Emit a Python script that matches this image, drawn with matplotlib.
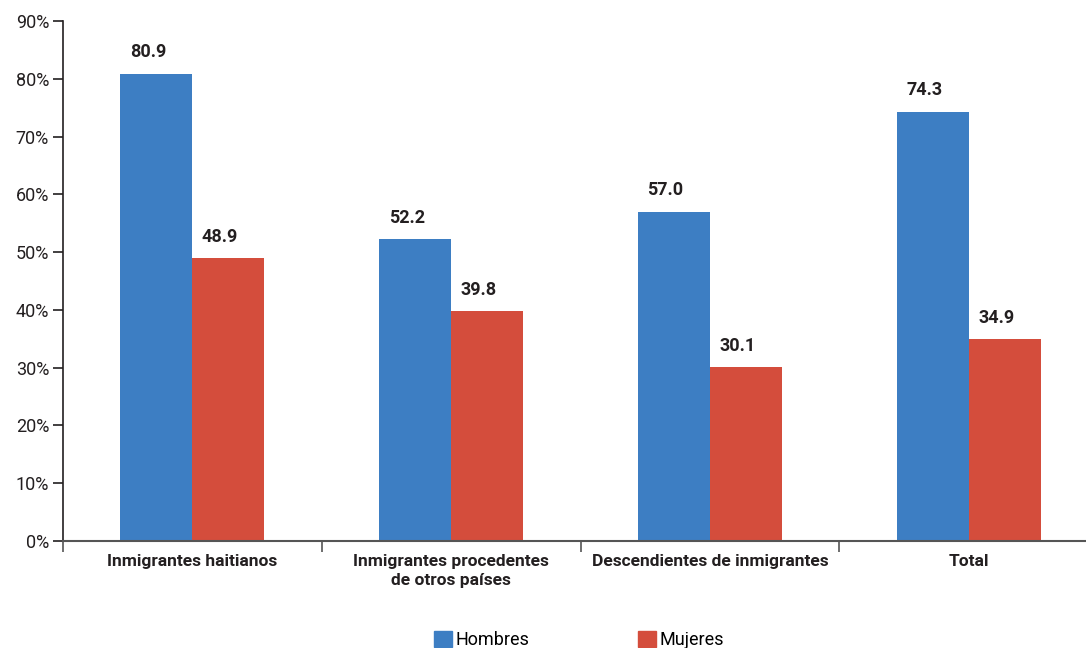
import matplotlib.pyplot as plt
import numpy as np
from matplotlib.patches import Patch

categories = ["Inmigrantes haitianos", "Inmigrantes procedentes\nde otros países",
              "Descendientes de inmigrantes", "Total"]
hombres = [80.9, 52.2, 57.0, 74.3]
mujeres = [48.9, 39.8, 30.1, 34.9]
series_names = ["Hombres", "Mujeres"]
yticks = [0, 10, 20, 30, 40, 50, 60, 70, 80, 90]

blue = "#3D7EC3"
red = "#D44D3C"
txt = "#231F20"

plt.rcParams['font.family'] = ['Roboto', 'DejaVu Sans']

fig = plt.figure(figsize=(10.86, 6.48), dpi=100)
W, H = 1086, 648
x0, x1 = 63, 1098
y0, y1 = 541, 21
ax = fig.add_axes([x0 / W, 1 - y0 / H, (x1 - x0) / W, (y0 - y1) / H])

x = np.arange(len(categories))
bw = 0.278
ax.bar(x - bw / 2, hombres, bw, color=blue)
ax.bar(x + bw / 2, mujeres, bw, color=red)

# value labels sit a little left of the bar centre, as in the original
for i in range(len(categories)):
    ax.annotate(f"{hombres[i]:.1f}", (x[i] - bw / 2, hombres[i]), xytext=(-6, 9),
                textcoords="offset points", ha="center", va="bottom",
                fontsize=13, fontweight="bold", color=txt)
    ax.annotate(f"{mujeres[i]:.1f}", (x[i] + bw / 2, mujeres[i]), xytext=(-6, 9),
                textcoords="offset points", ha="center", va="bottom",
                fontsize=13, fontweight="bold", color=txt)

ax.set_xlim(-0.5, len(categories) - 0.5)
ax.set_ylim(0, 90)
ax.set_yticks(yticks)
ax.set_yticklabels([f"{t}%" for t in yticks], fontsize=13, color=txt)
ax.tick_params(axis="y", length=7, width=1.2, color=txt, pad=3)

# category boundaries as ticks, labels at the centres
ax.set_xticks(np.arange(-0.5, len(categories), 1.0))
ax.set_xticklabels([])
ax.tick_params(axis="x", length=8, width=1.2, color="#555555")
for i, c in enumerate(categories):
    ax.text(x[i], -2.2, c, ha="center", va="top", fontsize=12.5, fontweight="bold",
            color=txt, linespacing=1.35)

for s in ["top", "right"]:
    ax.spines[s].set_visible(False)
ax.spines["left"].set_color(txt)
ax.spines["left"].set_linewidth(1.2)
ax.spines["bottom"].set_color("#555555")
ax.spines["bottom"].set_linewidth(1.5)

handles = [Patch(color=blue), Patch(color=red)]
fig.legend(handles, series_names, loc="center", bbox_to_anchor=(579 / W, 1 - 640 / H),
           ncol=2, frameon=False, fontsize=13, handlelength=1.0, handleheight=1.0,
           handletextpad=0.2, columnspacing=6.0)

fig.savefig("out.png", dpi=100)
